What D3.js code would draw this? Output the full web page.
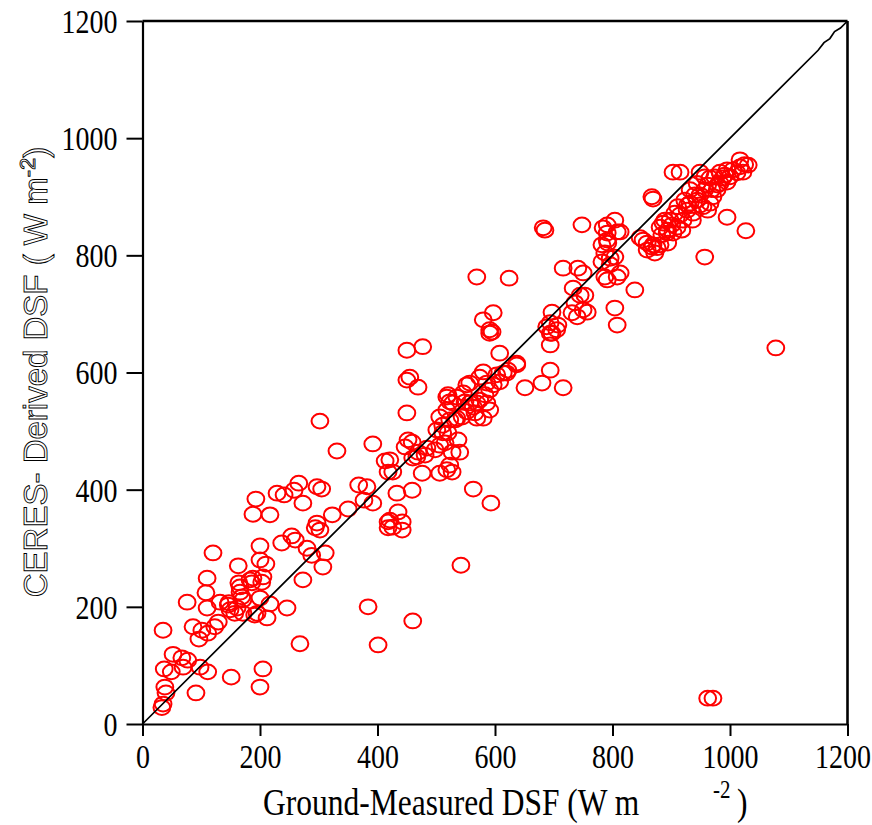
<!DOCTYPE html>
<html><head><meta charset="utf-8">
<script src="https://cdn.jsdelivr.net/npm/d3@7"></script>
<style>body{margin:0;background:#fff}</style>
</head><body><svg id="c" width="872" height="825"></svg>
<script>
// Ground-measured DSF (x) and CERES-derived DSF (y), W m-2
const ground = [
 35,76,52,67,77,69,37,49,98,111,151,205,200,91,38,40,35,33,86,101,96,111,123,129,110,132,147,149,157,171,191,212,217,246,200,268,166,169,164,186,203,108,110,163,120,200,200,210,237,254,260,280,288,311,307,273,297,294,302,193,188,217,229,241,266,258,273,297,305,350,323,368,382,377,392,418,418,302,331,392,413,418,384,401,183,205,166,171,146,161,188,195,
 450,477,455,450,469,450,452,447,459,421,426,467,469,460,476,481,484,459,433,435,421,426,442,442,460,542,563,593,506,527,518,523,540,537,520,501,511,523,535,518,523,520,535,552,557,549,557,566,569,580,563,574,574,580,586,591,597,608,603,614,622,637,586,591,498,506,515,527,511,532,544,552,569,583,546,528,608,591,569,624,580,597,591,595,651,680,716,694,694,697,705,637,620,518,506,
 682,685,748,784,791,804,808,782,792,787,782,796,804,787,808,716,741,750,733,753,736,745,731,740,750,757,697,694,707,688,694,804,808,838,791,813,796,791,813,791,
 847,859,867,872,859,852,869,881,876,881,889,893,894,886,898,894,903,910,920,927,932,937,944,949,957,962,954,966,971,962,978,983,988,995,1000,1012,1017,1022,1031,1017,1025,966,974,983,995,957,944,932,923,911,906,867,869,903,915,949,995,1027,957,1078,962,971,884,901,915,928,940,949,969,979,991,1005,936,918
];
const ceres = [
 160,208,119,113,109,97,94,89,97,89,80,94,63,53,63,53,34,28,166,160,145,155,166,174,198,208,207,195,189,189,186,181,205,198,215,137,225,217,241,241,242,224,249,270,292,304,280,273,309,321,314,300,288,292,268,246,343,335,331,384,358,357,394,391,411,399,377,405,401,367,357,408,405,382,377,345,335,517,466,478,449,430,200,135,246,251,234,212,203,198,249,189,
 638,644,592,587,575,531,485,473,481,451,430,456,464,454,428,459,471,399,394,362,348,336,345,331,176,271,401,377,428,430,434,442,464,485,497,502,510,519,522,536,550,562,558,579,582,550,548,531,522,522,541,553,592,601,582,570,579,584,596,599,604,613,548,536,468,476,480,464,497,519,524,533,548,562,565,548,633,667,763,761,690,702,673,669,574,582,574,604,647,667,673,616,599,558,524,
 847,843,852,847,838,860,840,818,821,804,789,795,797,763,763,778,778,770,744,732,719,732,702,695,707,703,703,685,681,678,667,710,681,741,758,770,784,826,840,852,
 830,821,814,804,809,826,818,818,813,848,860,838,821,855,860,843,838,848,860,877,889,872,894,903,912,920,883,889,900,877,912,923,932,925,934,941,951,942,954,963,955,932,934,942,946,934,923,912,894,883,872,900,896,942,942,942,865,842,797,642,44,44,835,852,869,886,903,886,912,920,937,946,860,843
];
const xTicks = [0,200,400,600,800,1000,1200];
const yTicks = [0,200,400,600,800,1000,1200];
// 1:1 reference line (slightly wavy near the top as drawn)
const lineX = [0, 850, 1150, 1160, 1170, 1178, 1188, 1200];
const lineY = [0, 850, 1150, 1163, 1170, 1182, 1188, 1200];

const svg = d3.select('#c');
const x = d3.scaleLinear().domain([0,1200]).range([142.5,847.5]);
const y = d3.scaleLinear().domain([0,1200]).range([724,21]);
const serif = '"Liberation Serif","Times New Roman",serif';
const SY = 1.2;

// points
svg.append('g').selectAll('ellipse').data(ground.map((g,i)=>[g,ceres[i]])).join('ellipse')
  .attr('cx', d=>x(d[0])).attr('cy', d=>y(d[1]))
  .attr('rx', 8.4).attr('ry', 7.4)
  .attr('fill','none').attr('stroke','#ff0000').attr('stroke-width',2);

// diagonal line
svg.append('path').datum(lineX.map((v,i)=>[v,lineY[i]]))
  .attr('d', d3.line().x(d=>x(d[0])).y(d=>y(d[1])))
  .attr('fill','none').attr('stroke','#000').attr('stroke-width',1.7);

// axes
const gx = svg.append('g').attr('transform','translate(0,724)')
  .call(d3.axisBottom(x).tickValues(xTicks).tickSize(12).tickSizeOuter(0).tickFormat(d3.format('d')));
const gy = svg.append('g').attr('transform','translate(142.5,0)')
  .call(d3.axisLeft(y).tickValues(yTicks).tickSize(16).tickSizeOuter(0).tickFormat(d3.format('d')));
[gx,gy].forEach(g=>{
  g.select('.domain').attr('stroke','#000').attr('stroke-width',2.2);
  g.selectAll('.tick line').attr('stroke','#000').attr('stroke-width',2);
  g.selectAll('.tick text').attr('font-family',serif).attr('font-size',28).attr('fill','#000');
});
gx.selectAll('.tick text').attr('y',0).attr('dy',null)
  .attr('dominant-baseline','central')
  .attr('text-anchor', d => d === 1200 ? 'end' : 'middle')
  .attr('transform', d => d === 1200 ? `translate(23,33) scale(1,${SY})` : `translate(0,33) scale(1,${SY})`);
gy.selectAll('.tick text').attr('x',0).attr('dy',null)
  .attr('dominant-baseline','central').attr('text-anchor','end').attr('transform',`translate(-25,0) scale(1,${SY})`);

// top and right frame
svg.append('line').attr('x1',x(0)).attr('x2',x(1200)).attr('y1',y(1200)).attr('y2',y(1200)).attr('stroke','#000').attr('stroke-width',2.6);
svg.append('line').attr('x1',x(1200)).attr('x2',x(1200)).attr('y1',y(1200)).attr('y2',y(0)).attr('stroke','#000').attr('stroke-width',2.6);

// x title
const xt = svg.append('g').attr('transform',`translate(263,815) scale(1,${SY})`)
  .attr('font-family',serif).attr('fill','#000');
xt.append('text').attr('font-size',31.5).text('Ground-Measured DSF (W m');
xt.append('text').attr('x',450).attr('y',-14).attr('font-size',21).text('-2');
xt.append('text').attr('x',474).attr('font-size',31.5).text(')');

// y title (outlined sans)
const yt = svg.append('text').attr('transform','translate(47,372) rotate(-90)')
  .attr('text-anchor','middle').attr('font-family','"Liberation Sans",Arial,sans-serif')
  .attr('font-size',33).attr('fill','#fff').attr('stroke','#000').attr('stroke-width',0.9);
yt.append('tspan').text('CERES- Derived DSF ( W m');
yt.append('tspan').attr('dy',-12).attr('font-size',22).text('-2');
yt.append('tspan').attr('dy',12).text(')');
</script></body></html>
